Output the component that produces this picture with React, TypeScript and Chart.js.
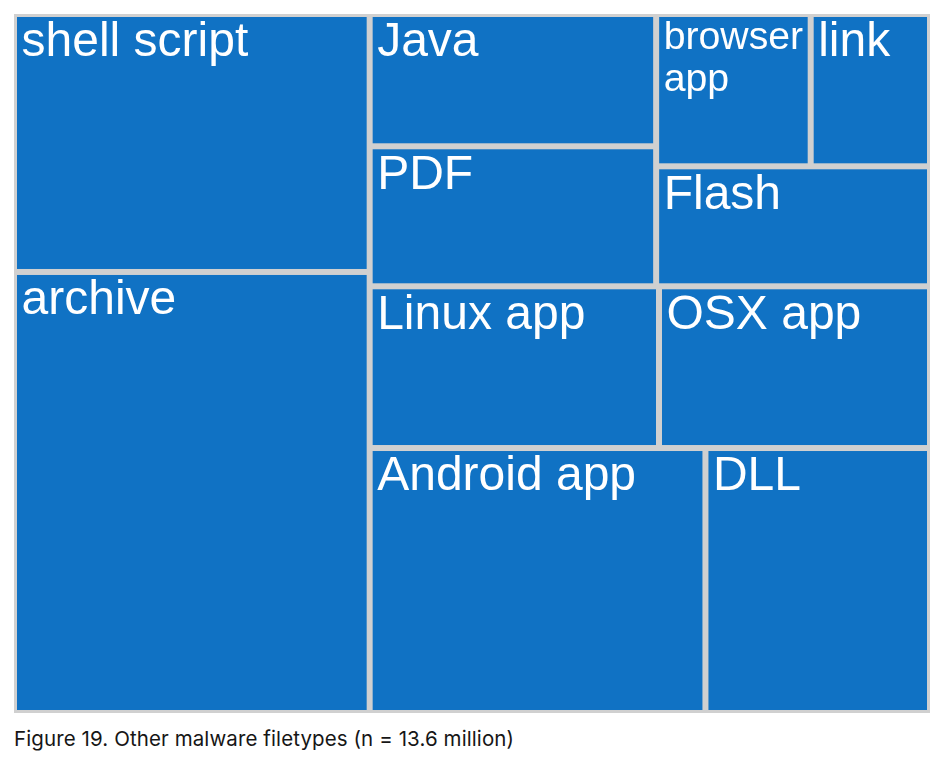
import React, { useEffect, useRef } from "react";
import { Chart, registerables } from "chart.js";

Chart.register(...registerables);

// ---- data (values in thousands of files, n = 13.6 million) ----
const categories = [
  "shell script",
  "archive",
  "Java",
  "PDF",
  "browser app",
  "link",
  "Flash",
  "Linux app",
  "OSX app",
  "Android app",
  "DLL",
];
const fileCounts = [1949, 3332, 805, 852, 500, 386, 698, 994, 931, 1890, 1264];

// nesting of the treemap groups: 'h' = children side by side, 'v' = stacked
const layoutTree: any = [
  "h",
  ["v", 0, 1],
  ["v", ["h", ["v", 2, 3], ["v", ["h", 4, 5], 6]], ["h", 7, 8], ["h", 9, 10]],
];

const captionText = "Figure 19. Other malware filetypes (n = 13.6 million)";

const CELL_COLOR = "#1072c4";
const GAP_COLOR = "#d0d0d0";
const LABEL_FONT = '"Liberation Sans", Arial, Helvetica, sans-serif';

type Rect = { x0: number; y0: number; x1: number; y1: number };

function sumNode(node: any): number {
  if (typeof node === "number") return fileCounts[node];
  return node.slice(1).reduce((s: number, c: any) => s + sumNode(c), 0);
}

function layoutNode(node: any, r: Rect, out: Rect[]) {
  if (typeof node === "number") {
    out[node] = r;
    return;
  }
  const dir = node[0];
  const children = node.slice(1);
  const total = sumNode(node);
  let pos = dir === "h" ? r.x0 : r.y0;
  for (const child of children) {
    const frac = sumNode(child) / total;
    if (dir === "h") {
      const w = (r.x1 - r.x0) * frac;
      layoutNode(child, { x0: pos, y0: r.y0, x1: pos + w, y1: r.y1 }, out);
      pos += w;
    } else {
      const h = (r.y1 - r.y0) * frac;
      layoutNode(child, { x0: r.x0, y0: pos, x1: r.x1, y1: pos + h }, out);
      pos += h;
    }
  }
}

function computeCells(): Rect[] {
  const out: Rect[] = [];
  layoutNode(layoutTree, { x0: 0, y0: 0, x1: 1, y1: 1 }, out);
  return out;
}

const treemapPlugin = {
  id: "treemapCells",
  beforeDatasetsDraw(chart: any) {
    const { ctx, scales } = chart;
    const xs = scales.x;
    const ys = scales.y;
    const cells: Rect[] = chart.data.datasets[0].cells;
    const inset = 3;
    const pad = 4.5;
    const maxFont = 48;

    ctx.save();
    const L = xs.getPixelForValue(0);
    const R = xs.getPixelForValue(1);
    const T = ys.getPixelForValue(0);
    const B = ys.getPixelForValue(1);
    ctx.fillStyle = GAP_COLOR;
    ctx.fillRect(L, T, R - L, B - T);

    cells.forEach((c, i) => {
      const px0 = xs.getPixelForValue(c.x0) + inset;
      const px1 = xs.getPixelForValue(c.x1) - inset;
      const py0 = ys.getPixelForValue(c.y0) + inset;
      const py1 = ys.getPixelForValue(c.y1) - inset;
      ctx.fillStyle = CELL_COLOR;
      ctx.fillRect(px0, py0, px1 - px0, py1 - py0);

      // label fitting
      const label = categories[i];
      const avail = px1 - px0 - 2 * pad;
      ctx.font = `${maxFont}px ${LABEL_FONT}`;
      let size = maxFont;
      let lines = [label];
      const full = ctx.measureText(label).width;
      if (full > avail) {
        const words = label.split(" ");
        if (words.length > 1) {
          const widest = Math.max(...words.map((w) => ctx.measureText(w).width));
          size = Math.min(maxFont, (maxFont * avail) / widest);
          lines = words;
        } else {
          size = (maxFont * avail) / full;
        }
      }
      ctx.font = `${size}px ${LABEL_FONT}`;
      ctx.fillStyle = "#ffffff";
      ctx.textAlign = "left";
      ctx.textBaseline = "alphabetic";
      lines.forEach((ln, k) => {
        ctx.fillText(ln, px0 + pad, py0 + 0.82 * size + k * 1.06 * size);
      });
    });
    ctx.restore();
  },
};

export default function App() {
  const canvasRef = useRef<HTMLCanvasElement | null>(null);

  useEffect(() => {
    if (!canvasRef.current) return;
    const cells = computeCells();
    const chart = new Chart(canvasRef.current, {
      type: "scatter",
      data: {
        datasets: [
          {
            label: "files",
            data: cells.map((c, i) => ({
              x: (c.x0 + c.x1) / 2,
              y: (c.y0 + c.y1) / 2,
              v: fileCounts[i],
            })) as any,
            cells,
            pointRadius: 0,
            pointHoverRadius: 0,
          } as any,
        ],
      },
      options: {
        animation: false,
        responsive: true,
        maintainAspectRatio: false,
        layout: { padding: { left: 6, right: 6, top: 6, bottom: 7 } },
        scales: {
          x: { type: "linear", min: 0, max: 1, display: false },
          y: { type: "linear", min: 0, max: 1, reverse: true, display: false },
        },
        plugins: {
          legend: { display: false },
          tooltip: { enabled: false },
        },
      },
      plugins: [treemapPlugin],
    });
    return () => chart.destroy();
  }, []);

  return (
    <div style={{ position: "relative", width: 928, height: 748 }}>
      <div style={{ position: "absolute", left: 0, top: 0, width: 928, height: 712 }}>
        <canvas ref={canvasRef} />
      </div>
      <div
        style={{
          position: "absolute",
          left: 6,
          top: 719,
          fontFamily: "Inter, 'Noto Sans', sans-serif",
          fontSize: 20.5,
          lineHeight: "24px",
          letterSpacing: "0.1px",
          color: "#161616",
          whiteSpace: "nowrap",
        }}
      >
        {captionText}
      </div>
    </div>
  );
}
